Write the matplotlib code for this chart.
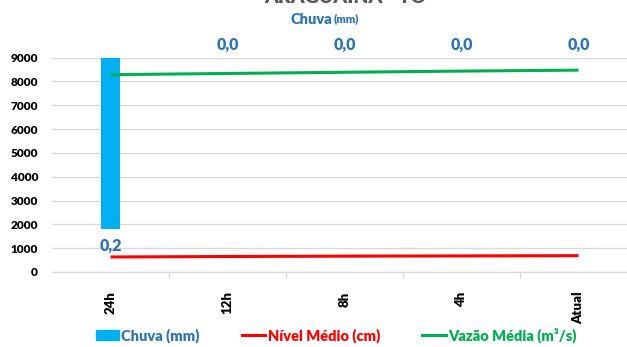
import numpy as np
from matplotlib import pyplot as plt
from matplotlib.lines import Line2D
from matplotlib.patches import Patch

plt.rcParams['font.family'] = 'Lato'
W = 800  # Lato's 700 comes out light next to Calibri bold

# data
categories = ['24h', '12h', '8h', '4h', 'Atual']
chuva = [0.2, 0.0, 0.0, 0.0, 0.0]
nivel = [630, 650, 665, 675, 685]
vazao = [8280, 8330, 8380, 8430, 8470]
y_ticks = [0, 1000, 2000, 3000, 4000, 5000, 6000, 7000, 8000, 9000]

blue_bar = '#00B0F0'
blue_txt = '#2E75B6'
red = '#FF0000'
green = '#00B050'
grid_c = '#D9D9D9'

fig = plt.figure(figsize=(6.27, 3.47), dpi=100)
ax = fig.add_axes([52/627, 75/347, 585/627, 214.5/347])
ax_bar = ax.twinx()

# bars live on a hidden, inverted secondary axis (rain hangs from the top)
ax_bar.set_zorder(0)
ax.set_zorder(1)
ax.patch.set_visible(False)

x = np.arange(len(categories))
ax_bar.bar(x, chuva, width=0.165, color=blue_bar, zorder=2)
ax_bar.set_ylim(0.25, 0)
ax_bar.set_yticks(np.linspace(0, 0.25, len(y_ticks)))
ax_bar.yaxis.grid(True, color=grid_c, linewidth=1)
ax_bar.set_axisbelow(True)
ax_bar.tick_params(axis='y', length=0, labelright=False)
for s in ax_bar.spines.values():
	s.set_visible(False)

for i, v in enumerate(chuva):
	off = -12 if v > 0 else 9
	ax_bar.annotate(f'{v:.1f}'.replace('.', ','), xy=(i, v), xytext=(0, off),
					textcoords='offset points', ha='center', va='center',
					fontsize=11.5, fontweight=W, color=blue_txt)

ax.plot(x, nivel, color=red, linewidth=2.2, solid_capstyle='butt', zorder=3)
ax.plot(x, vazao, color=green, linewidth=2.2, solid_capstyle='butt', zorder=3)
ax.set_ylim(0, 9000)
ax.set_yticks(y_ticks)
ax.set_yticklabels([str(t) for t in y_ticks], fontsize=8.5, fontweight=W)
ax.tick_params(axis='y', length=0, pad=10)
ax.set_xlim(-0.5, 4.5)
ax.set_xticks(x)
ax.set_xticklabels(categories, rotation=90, fontsize=9.5, fontweight=W, va='top')
ax.tick_params(axis='x', which='major', length=0, pad=14)
ax.set_xticks(x[:-1] + 0.5, minor=True)
ax.tick_params(axis='x', which='minor', length=4, color=grid_c, width=1)
for name, s in ax.spines.items():
	s.set_visible(name == 'bottom')
ax.spines['bottom'].set_color(grid_c)

# titles (main title is cut off at the top of the picture)
fig.text(345/627, 1 - 3/347, 'ARAGUAINA - TO', ha='center', va='baseline',
		 fontsize=14, fontweight=W, color='#595959')
fig.text(332/627, 1 - 20/347, 'Chuva', ha='right', va='center',
		 fontsize=10.5, fontweight=W, color=blue_txt)
fig.text(334/627, 1 - 19/347, '(mm)', ha='left', va='center',
		 fontsize=8, fontweight=W, color=blue_txt)

handles = [Patch(color=blue_bar),
		   Line2D([], [], color=red, linewidth=2.2),
		   Line2D([], [], color=green, linewidth=2.2)]
labels = ['Chuva (mm)', 'Nível Médio (cm)', 'Vazão Média (m³/s)']
leg = fig.legend(handles, labels, loc='center', bbox_to_anchor=(336/627, 1 - 335/347),
				 ncol=3, frameon=False, handlelength=1.6, handleheight=0.6, handletextpad=0.15,
				 columnspacing=2.9, prop={'size': 10.5, 'weight': W},
				 labelcolor=[blue_txt, red, green])

fig.savefig('out.png', dpi=100)
